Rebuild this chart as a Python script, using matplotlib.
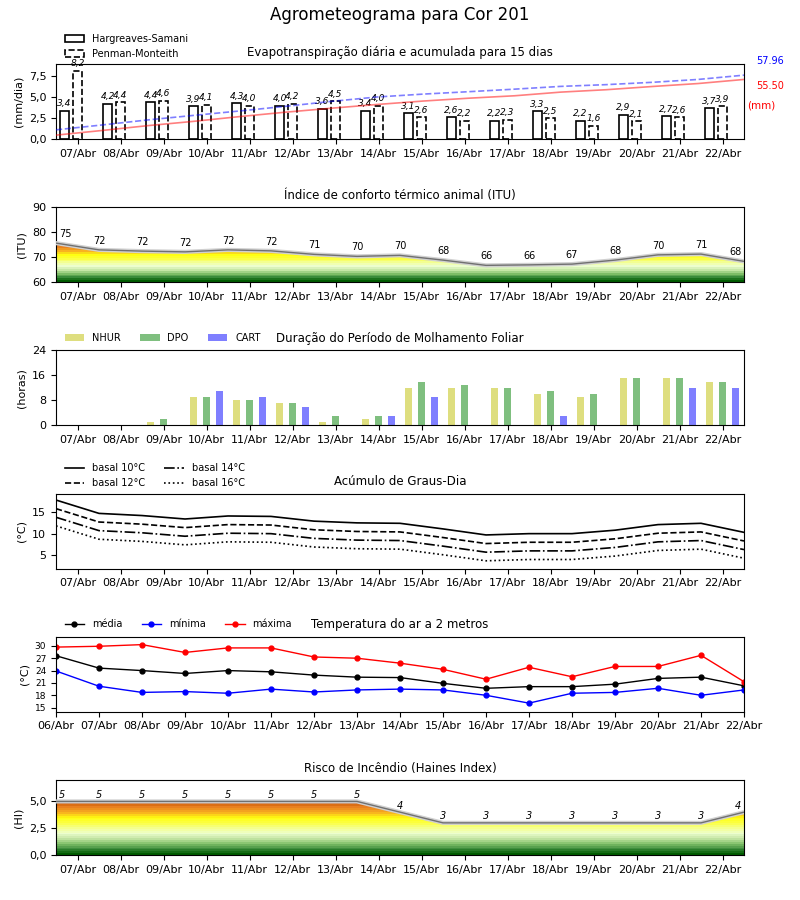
import numpy as np
import matplotlib
matplotlib.use("Agg")
import matplotlib.pyplot as plt
import matplotlib.patheffects as pe
from matplotlib.colors import LinearSegmentedColormap, Normalize
from matplotlib.ticker import FuncFormatter, MultipleLocator
from matplotlib.patches import Patch

# ---- data ----
days = ["07/Abr", "08/Abr", "09/Abr", "10/Abr", "11/Abr", "12/Abr", "13/Abr", "14/Abr",
        "15/Abr", "16/Abr", "17/Abr", "18/Abr", "19/Abr", "20/Abr", "21/Abr", "22/Abr"]
days_temp = ["06/Abr"] + days

# evapotranspiration (mm/dia)
eto_hs = [3.4, 4.2, 4.4, 3.9, 4.3, 4.0, 3.6, 3.4, 3.1, 2.6, 2.2, 3.3, 2.2, 2.9, 2.7, 3.7]
eto_pm = [8.2, 4.4, 4.6, 4.1, 4.0, 4.2, 4.5, 4.0, 2.6, 2.2, 2.3, 2.5, 1.6, 2.1, 2.6, 3.9]
acc_pm_total = 57.96
acc_hs_total = 55.50

# ITU (values at day boundaries, 17 points)
itu = [75.6, 72.9, 72.4, 72.1, 72.9, 72.5, 71.1, 70.3, 70.7, 68.8, 66.7, 66.9, 67.2, 68.8, 70.9, 71.2, 68.3]

# leaf wetness duration (horas)
nhur = [0, 0, 1, 9, 8, 7, 1, 2, 12, 12, 12, 10, 9, 15, 15, 14]
dpo = [0, 0, 2, 9, 8, 7, 3, 3, 14, 13, 12, 11, 10, 15, 15, 14]
cart = [0, 0, 0, 11, 9, 6, 0, 3, 9, 0, 0, 3, 0, 0, 12, 12]

# degree days (17 points)
gd10 = [17.8, 14.7, 14.2, 13.4, 14.1, 14.0, 12.9, 12.5, 12.4, 11.1, 9.7, 10.0, 10.0, 10.8, 12.1, 12.4, 10.3]
gd12 = [15.8, 12.7, 12.2, 11.4, 12.1, 12.0, 10.9, 10.5, 10.4, 9.1, 7.7, 8.0, 8.0, 8.8, 10.1, 10.4, 8.3]
gd14 = [13.8, 10.7, 10.2, 9.4, 10.1, 10.0, 8.9, 8.5, 8.4, 7.1, 5.7, 6.0, 6.0, 6.8, 8.1, 8.4, 6.3]
gd16 = [11.8, 8.7, 8.2, 7.4, 8.1, 8.0, 6.9, 6.5, 6.4, 5.1, 3.7, 4.0, 4.0, 4.8, 6.1, 6.4, 4.3]

# air temperature at 2 m
t_med = [27.6, 24.6, 24.0, 23.3, 24.0, 23.7, 22.9, 22.4, 22.3, 20.9, 19.7, 20.1, 20.1, 20.7, 22.1, 22.4, 20.3]
t_min = [23.9, 20.2, 18.7, 18.9, 18.5, 19.5, 18.8, 19.3, 19.5, 19.3, 18.0, 16.1, 18.5, 18.7, 19.7, 18.0, 19.3]
t_max = [29.7, 29.9, 30.3, 28.4, 29.5, 29.5, 27.3, 27.0, 25.8, 24.3, 21.9, 24.8, 22.5, 25.0, 25.0, 27.7, 21.3]

# Haines index (17 points)
haines = [5, 5, 5, 5, 5, 5, 5, 5, 4, 3, 3, 3, 3, 3, 3, 3, 4]

# ---- helpers ----
plt.rcParams['font.family'] = ['DejaVu Sans']
plt.rcParams['font.size'] = 8

risk_cmap = LinearSegmentedColormap.from_list("risk", [
    (0.0, "#005c00"), (0.1, "#3c8c3c"), (0.2, "#80c068"), (0.3, "#c8e8a8"),
    (0.4, "#eeffd0"), (0.5, "#f4ff90"), (0.6, "#fcff40"), (0.7, "#ffff10"),
    (0.8, "#f8b020"), (0.9, "#e88020"), (1.0, "#c04a00")])

comma1 = FuncFormatter(lambda v, p: ("%.1f" % v).replace(".", ","))
xd = np.arange(len(days))
xb = np.arange(len(days) + 1) - 0.5


def day_axis(ax):
    ax.set_xticks(xd)
    ax.set_xticklabels(days, fontsize=8)
    ax.set_xlim(-0.5, len(days) - 0.5)


def gradient_fill(ax, x, y, ylo, yhi, vmin, vmax):
    poly = ax.fill_between(x, y, ylo, facecolor="none", edgecolor="none")
    grad = np.linspace(ylo, yhi, 40).reshape(-1, 1)
    im = ax.imshow(grad, cmap=risk_cmap, norm=Normalize(vmin, vmax), origin="lower",
                   extent=[x[0], x[-1], ylo, yhi], aspect="auto", interpolation="nearest", zorder=1)
    im.set_clip_path(poly.get_paths()[0], transform=ax.transData)
    ax.plot(x, y, color="#707070", lw=1, zorder=3,
            path_effects=[pe.Stroke(linewidth=3, foreground="#d0d0d0"), pe.Normal()])


fig, axs = plt.subplots(6, 1, figsize=(8, 9), dpi=100)
fig.subplots_adjust(left=0.07, right=0.93, top=0.929, bottom=0.05, hspace=0.91)
fig.suptitle("Agrometeograma para Cor 201", fontsize=12, y=0.993)

# ---- 1: evapotranspiration ----
ax = axs[0]
ax.bar(xd - 0.3, eto_hs, width=0.22, facecolor="white", edgecolor="black", lw=1.2)
ax.bar(xd, eto_pm, width=0.22, facecolor="white", edgecolor="black", lw=1.2, linestyle="--")
for i in range(len(days)):
    ax.text(xd[i] - 0.3, eto_hs[i] + 0.3, ("%.1f" % eto_hs[i]).replace(".", ","),
            ha="center", va="bottom", fontsize=6.5, style="italic")
    ax.text(xd[i], eto_pm[i] + 0.3, ("%.1f" % eto_pm[i]).replace(".", ","),
            ha="center", va="bottom", fontsize=6.5, style="italic")
day_axis(ax)
ax.set_ylim(0, 9.0)
ax.yaxis.set_major_locator(MultipleLocator(2.5))
ax.yaxis.set_major_formatter(comma1)
ax.set_ylabel("(mm/dia)")
ax.set_title("Evapotranspiração diária e acumulada para 15 dias", fontsize=8.5)
leg_h = [Patch(facecolor="white", edgecolor="black", lw=1.2),
         Patch(facecolor="white", edgecolor="black", lw=1.2, linestyle="--")]
ax.legend(leg_h, ["Hargreaves-Samani", "Penman-Monteith"], loc="lower left",
          bbox_to_anchor=(0.007, 1.02), frameon=False, fontsize=7, borderaxespad=0)

acc = fig.add_axes(ax.get_position(), frameon=False)
acc.plot(np.arange(len(days)), np.cumsum(eto_pm), color="b", alpha=0.5, ls="--", lw=1.2)
acc.plot(np.arange(len(days)), np.cumsum(eto_hs), color="r", alpha=0.5, lw=1.2)
acc.set_xlim(0, len(days) - 1)
acc.set_ylim(0, 68)
acc.set_xticks([])
acc.set_yticks([])
acc.text(1.017, 1.04, "%.2f" % acc_pm_total, transform=acc.transAxes, color="b", fontsize=7, va="center")
acc.text(1.017, 0.70, "%.2f" % acc_hs_total, transform=acc.transAxes, color="r", fontsize=7, va="center")
acc.text(1.004, 0.45, "(mm)", transform=acc.transAxes, color="r", fontsize=7.5, va="center")

# ---- 2: ITU ----
ax = axs[1]
gradient_fill(ax, xb, itu, 60, 90, 60, 75.5)
for i, v in enumerate(itu):
    if i == 0:
        ha, dx = "left", 2
    elif i == len(itu) - 1:
        ha, dx = "right", -2
    else:
        ha, dx = "center", 0
    ax.annotate(str(int(v)), (xb[i], v), xytext=(dx, 3), textcoords="offset points",
                ha=ha, va="bottom", fontsize=7)
day_axis(ax)
ax.set_ylim(60, 90)
ax.set_yticks([60, 70, 80, 90])
ax.set_ylabel("(ITU)")
ax.set_title("Índice de conforto térmico animal (ITU)", fontsize=8.5)

# ---- 3: leaf wetness ----
ax = axs[2]
ax.bar(xd - 0.3, nhur, width=0.16, color="y", alpha=0.5, label="NHUR")
ax.bar(xd, dpo, width=0.16, color="g", alpha=0.5, label="DPO")
ax.bar(xd + 0.3, cart, width=0.16, color="b", alpha=0.5, label="CART")
day_axis(ax)
ax.set_ylim(0, 24)
ax.set_yticks([0, 8, 16, 24])
ax.set_ylabel("(horas)")
ax.set_title("Duração do Período de Molhamento Foliar", fontsize=8.5)
ax.legend(loc="lower left", bbox_to_anchor=(0.007, 1.05), ncol=3, frameon=False, fontsize=7, borderaxespad=0)

# ---- 4: degree days ----
ax = axs[3]
ax.plot(xb, gd10, "k-", lw=1.2, label="basal 10°C")
ax.plot(xb, gd12, "k--", lw=1.2, label="basal 12°C")
ax.plot(xb, gd14, "k-.", lw=1.2, label="basal 14°C")
ax.plot(xb, gd16, "k:", lw=1.2, label="basal 16°C")
day_axis(ax)
ax.set_ylim(1.9, 19.3)
ax.set_yticks([5, 10, 15])
ax.set_ylabel("(°C)")
ax.set_title("Acúmulo de Graus-Dia", fontsize=8.5)
ax.legend(loc="lower left", bbox_to_anchor=(0.007, 1.02), ncol=2, frameon=False, fontsize=7,
          borderaxespad=0, labelspacing=0.5)

# ---- 5: temperature ----
ax = axs[4]
xt = np.arange(len(days_temp))
ax.plot(xt, t_med, "k-o", lw=1, ms=3.5, label="média")
ax.plot(xt, t_min, "b-o", lw=1, ms=3.5, label="mínima")
ax.plot(xt, t_max, "r-o", lw=1, ms=3.5, label="máxima")
ax.set_xticks(xt)
ax.set_xticklabels(days_temp, fontsize=8)
ax.set_xlim(0, len(days_temp) - 1)
ax.set_ylim(14, 32.2)
ax.set_yticks([15, 18, 21, 24, 27, 30])
ax.tick_params(axis="y", labelsize=6.5)
ax.set_ylabel("(°C)")
ax.set_title("Temperatura do ar a 2 metros", fontsize=8.5)
ax.legend(loc="lower left", bbox_to_anchor=(0.007, 1.05), ncol=3, frameon=False, fontsize=7, borderaxespad=0)

# ---- 6: Haines index ----
ax = axs[5]
gradient_fill(ax, xb, haines, 0, 7, 0, 5)
for i, v in enumerate(haines):
    if i == 0:
        ha, dx = "left", 2
    elif i == len(haines) - 1:
        ha, dx = "right", -2
    else:
        ha, dx = "center", 0
    ax.annotate(str(v), (xb[i], v), xytext=(dx, 1), textcoords="offset points",
                ha=ha, va="bottom", fontsize=7, style="italic")
day_axis(ax)
ax.set_ylim(0, 7)
ax.set_yticks([0, 2.5, 5])
ax.yaxis.set_major_formatter(comma1)
ax.set_ylabel("(HI)")
ax.set_title("Risco de Incêndio (Haines Index)", fontsize=8.5)

fig.savefig("out.png", dpi=100)
